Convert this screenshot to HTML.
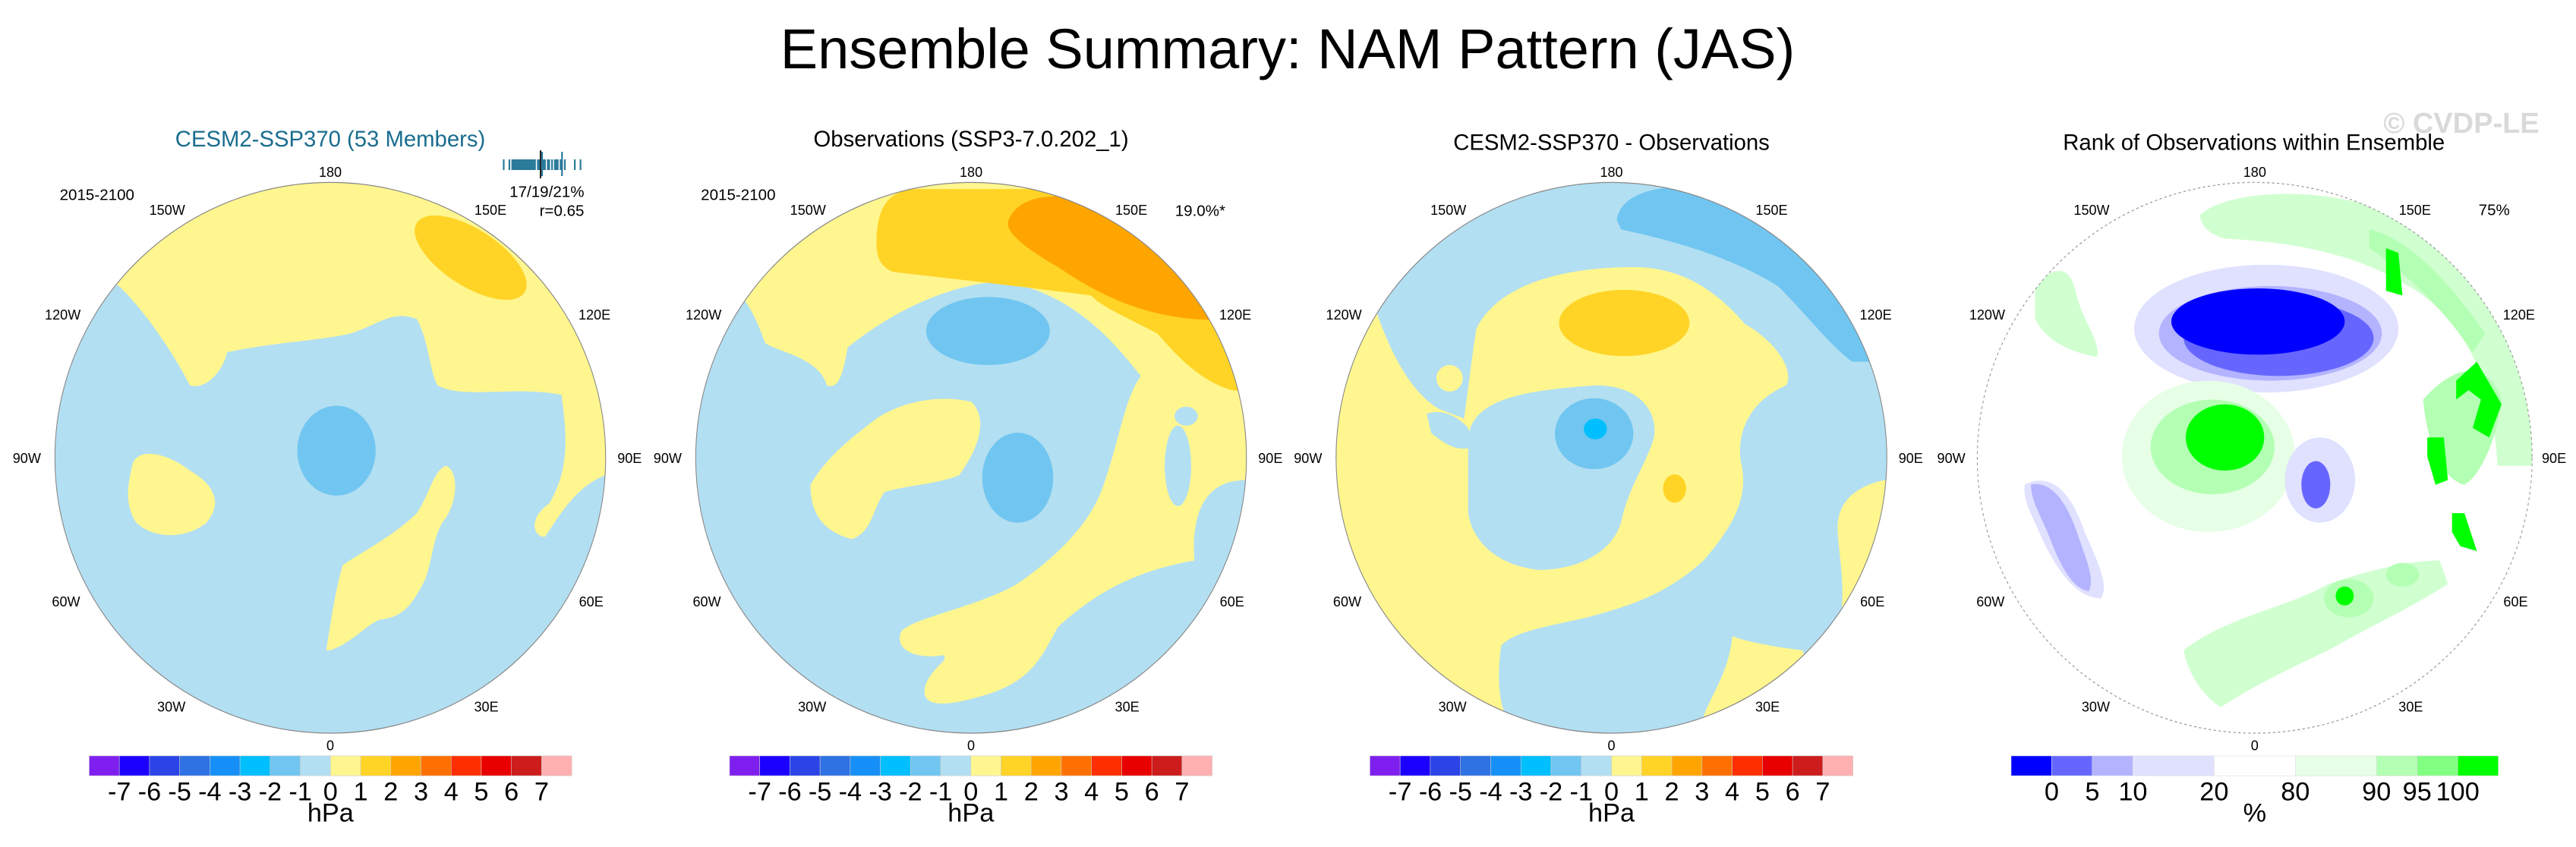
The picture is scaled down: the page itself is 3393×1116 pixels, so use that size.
<!DOCTYPE html>
<html><head><meta charset="utf-8">
<style>
html,body{margin:0;padding:0;background:#fff;}
svg{display:block;font-family:"Liberation Sans",Arial,sans-serif;}
</style></head>
<body>
<svg id="fig" width="3393" height="1116" viewBox="0 0 3393 1116">
<defs>
<clipPath id="c1"><ellipse cx="800" cy="743" rx="667" ry="582"/></clipPath>
<clipPath id="c2"><ellipse cx="789" cy="743" rx="667" ry="582"/></clipPath>
<clipPath id="c3"><ellipse cx="777" cy="743" rx="667" ry="582"/></clipPath>
<clipPath id="c4"><ellipse cx="772" cy="743" rx="672" ry="582"/></clipPath>
</defs>
<rect width="3393" height="1116" fill="#fff"/>
<text x="1696" y="90" font-size="74" text-anchor="middle" fill="#000">Ensemble Summary: NAM Pattern (JAS)</text>
<text x="3242" y="175" font-size="38" font-weight="bold" text-anchor="middle" fill="#d9d9d9">© CVDP-LE</text>

<!-- Panel 1 -->
<g id="p1" class="panel" transform="translate(0,140) scale(0.5438,0.6234)">
<text x="800" y="85" font-size="47" text-anchor="middle" fill="#1a6d8f">CESM2-SSP370 (53 Members)</text>
<g clip-path="url(#c1)">
<rect x="0" y="100" width="1600" height="1300" fill="#b3dff2"/>
<path d="M0,378 L285,378 C340,420 420,520 460,590 C500,600 540,560 550,520 C650,500 780,495 850,480 C920,460 950,430 1010,450 C1040,500 1040,560 1060,590 C1120,620 1250,590 1360,610 C1370,680 1385,760 1330,840 C1280,870 1290,910 1320,910 C1360,860 1400,790 1500,770 L1600,770 L1600,100 L0,100 Z" fill="#fff68f"/>
<ellipse cx="1140" cy="320" rx="150" ry="62" transform="rotate(28 1140 320)" fill="#ffd426"/>
<path d="M320,760 C330,720 400,730 460,770 C520,800 540,840 500,880 C460,910 380,920 330,880 C300,840 310,800 320,760Z" fill="#fff68f"/>
<path d="M790,1150 C800,1100 810,1030 830,970 C880,940 950,910 1010,860 C1040,820 1050,770 1080,760 C1110,770 1110,830 1080,870 C1050,900 1050,950 1030,1000 C1000,1050 980,1080 920,1085 C880,1100 860,1130 800,1150Z" fill="#fff68f"/>
<ellipse cx="815" cy="728" rx="95" ry="95" fill="#70c6f0"/>
</g>
<ellipse cx="800" cy="743" rx="667" ry="582" fill="none" stroke="#888" stroke-width="2"/>
</g>

<!-- Panel 2 -->
<g id="p2" class="panel" transform="translate(850,140) scale(0.5438,0.6234)">
<text x="789" y="85" font-size="47" text-anchor="middle" fill="#000">Observations (SSP3-7.0.202_1)</text>
<g clip-path="url(#c2)">
<rect x="0" y="100" width="1600" height="1300" fill="#b3dff2"/>
<path d="M0,100 L1600,100 L1600,790 L1455,790 C1380,790 1320,830 1330,960 C1200,980 1100,1020 1000,1100 C960,1160 940,1220 800,1250 C720,1270 660,1270 680,1220 C700,1180 740,1170 720,1160 C660,1170 600,1150 620,1110 C650,1080 800,1060 900,1010 C1000,950 1080,880 1110,800 C1150,700 1160,620 1200,570 C1120,480 1020,390 860,370 C700,380 560,460 490,510 C480,560 470,600 440,590 C420,530 320,520 290,500 C270,450 250,420 240,410 L0,410 Z" fill="#fff68f"/>
<ellipse cx="1290" cy="760" rx="32" ry="85" fill="#b3dff2"/>
<ellipse cx="1310" cy="655" rx="28" ry="20" fill="#b3dff2"/>
<path d="M560,290 C560,200 600,180 650,175 L1600,175 L1600,620 L1420,600 C1340,580 1280,520 1240,480 C1150,440 1100,420 1080,400 C900,380 700,360 600,350 C570,340 560,320 560,290Z" fill="#ffd426"/>
<path d="M880,240 C900,200 950,190 1000,190 L1600,190 L1600,460 L1330,450 C1200,440 1100,400 1000,340 C900,290 870,260 880,240Z" fill="#ffa500"/>
<ellipse cx="830" cy="475" rx="150" ry="72" fill="#70c6f0"/>
<ellipse cx="902" cy="785" rx="86" ry="95" fill="#70c6f0"/>
<path d="M400,800 C440,740 500,700 560,660 C630,620 720,610 790,625 C830,660 810,720 760,780 C700,800 640,800 580,815 C550,850 550,900 500,915 C440,900 400,870 400,800Z" fill="#fff68f"/>
</g>
<ellipse cx="789" cy="743" rx="667" ry="582" fill="none" stroke="#888" stroke-width="2"/>
</g>

<!-- Panel 3 -->
<g id="p3" class="panel" transform="translate(1700,140) scale(0.5438,0.6234)">
<text x="777" y="92" font-size="47" text-anchor="middle" fill="#000">CESM2-SSP370 - Observations</text>
<g clip-path="url(#c3)">
<rect x="0" y="100" width="1600" height="1300" fill="#b3dff2"/>
<path d="M0,440 L210,440 C250,540 300,610 360,640 L420,660 C430,600 440,520 450,470 C500,380 650,340 830,340 C960,340 1040,400 1100,460 C1180,500 1220,560 1200,590 C1120,620 1080,680 1090,750 C1110,820 1080,880 1000,960 C900,1040 800,1060 720,1080 C620,1100 540,1110 510,1140 C500,1200 500,1280 540,1310 C600,1320 700,1320 790,1330 L0,1400 Z" fill="#fff68f"/>
<path d="M430,700 C440,620 560,600 740,590 C850,590 890,650 880,700 C860,760 820,800 800,880 C780,940 700,980 600,980 C500,970 440,920 430,860 Z" fill="#b3dff2"/>
<path d="M330,650 C360,640 400,650 430,680 L440,720 C410,730 380,720 340,690Z" fill="#b3dff2"/>
<ellipse cx="385" cy="575" rx="32" ry="28" fill="#fff68f"/>
<ellipse cx="808" cy="458" rx="158" ry="70" fill="#ffd426"/>
<ellipse cx="735" cy="692" rx="95" ry="75" fill="#70c6f0"/>
<ellipse cx="738" cy="682" rx="28" ry="22" fill="#00bfff"/>
<ellipse cx="930" cy="808" rx="28" ry="30" fill="#ffd426"/>
<path d="M790,240 C800,180 900,170 950,170 L1600,170 L1600,540 L1360,540 C1300,500 1250,440 1180,380 C1050,310 900,280 800,260Z" fill="#70c6f0"/>
<path d="M1600,780 L1440,790 C1380,800 1320,830 1325,900 C1330,960 1340,1000 1335,1060 L1600,1060Z" fill="#fff68f"/>
<path d="M1070,1120 C1060,1200 1020,1240 1000,1290 L1300,1290 L1240,1150 C1150,1140 1100,1130 1070,1120Z" fill="#fff68f"/>
</g>
<ellipse cx="777" cy="743" rx="667" ry="582" fill="none" stroke="#888" stroke-width="2"/>
</g>

<!-- Panel 4 -->
<g id="p4" class="panel" transform="translate(2550,140) scale(0.5438,0.6234)">
<text x="770" y="92" font-size="47" text-anchor="middle" fill="#000">Rank of Observations within Ensemble</text>
<g clip-path="url(#c4)">
<rect x="0" y="100" width="1600" height="1300" fill="#fff"/>
<path d="M640,230 C700,180 900,170 1050,210 C1200,270 1350,380 1440,560 L1460,760 L1360,760 C1350,600 1300,480 1180,400 C1080,340 950,290 700,280 C660,270 640,250 640,230Z" fill="#d0ffd0"/>
<path d="M1050,260 C1150,280 1250,380 1330,480 L1300,520 C1230,430 1150,360 1050,300Z" fill="#b3ffb3"/>
<path d="M1090,300 L1120,310 L1130,400 L1090,390 Z" fill="#00ff00"/>
<path d="M1180,620 C1240,560 1330,520 1370,620 C1360,700 1320,780 1280,800 C1230,790 1190,720 1180,620Z" fill="#b3ffb3"/>
<path d="M1260,580 L1310,540 L1370,630 L1340,700 L1300,680 L1320,620 L1290,600 L1260,620Z" fill="#00ff00"/>
<path d="M1190,700 L1230,700 L1240,790 L1210,800 L1190,740Z" fill="#00ff00"/>
<path d="M1250,860 L1280,860 L1310,940 L1270,930 L1250,900Z" fill="#00ff00"/>
<path d="M240,380 C290,330 330,340 340,400 C360,460 400,500 390,530 C330,520 270,500 240,450Z" fill="#d0ffd0"/>
<ellipse cx="800" cy="470" rx="320" ry="135" fill="#e0e0ff"/>
<ellipse cx="810" cy="480" rx="270" ry="100" fill="#b3b3ff"/>
<ellipse cx="830" cy="490" rx="230" ry="80" fill="#6666ff"/>
<ellipse cx="780" cy="455" rx="210" ry="70" fill="#0000ff"/>
<ellipse cx="660" cy="740" rx="210" ry="160" fill="#e6ffe6"/>
<ellipse cx="670" cy="720" rx="150" ry="100" fill="#b3ffb3"/>
<ellipse cx="700" cy="700" rx="95" ry="70" fill="#00ff00"/>
<path d="M215,800 C280,770 330,820 360,900 C390,960 420,1010 400,1040 C340,1040 290,980 250,900 C230,860 210,830 215,800Z" fill="#e0e0ff"/>
<path d="M230,800 C280,790 320,840 345,910 C365,960 385,1000 370,1025 C330,1020 300,970 270,900 C250,860 230,830 230,800Z" fill="#b3b3ff"/>
<ellipse cx="930" cy="790" rx="85" ry="90" fill="#e0e0ff"/>
<ellipse cx="920" cy="800" rx="35" ry="50" fill="#6666ff"/>
<path d="M600,1150 C700,1080 850,1060 950,1010 C1050,980 1150,960 1220,960 L1240,1010 C1150,1060 1050,1100 950,1150 C850,1190 760,1230 690,1270 C650,1250 610,1200 600,1150Z" fill="#d0ffd0"/>
<ellipse cx="1000" cy="1040" rx="60" ry="40" fill="#b3ffb3"/>
<ellipse cx="990" cy="1035" rx="22" ry="20" fill="#00ff00"/>
<ellipse cx="1130" cy="990" rx="40" ry="25" fill="#b3ffb3"/>
</g>
<ellipse cx="772" cy="743" rx="672" ry="582" fill="none" stroke="#999" stroke-width="2" stroke-dasharray="6 6"/>
</g>

<g id="members"></g>
</svg>
<script>
// Colorbar data (hPa)
const hpaLevels = [-7,-6,-5,-4,-3,-2,-1,0,1,2,3,4,5,6,7];
const hpaColors = ["#7f1fef","#1b00ff","#2a44e8","#2e72e4","#1690f8","#00bfff","#70c6f0","#b3dff2","#fff68f","#ffd426","#ffa500","#ff7000","#ff2e00","#e80000","#cc1c1c","#ffb0b0"];
const rankLevels = [0,5,10,20,80,90,95,100];
const rankColors = ["#0000ff","#6666ff","#b3b3ff","#e0e0ff","#ffffff","#e6ffe6","#b3ffb3","#80ff80","#00ff00"];
const rankSpans = [1,1,1,2,2,2,1,1,1];
// Ensemble member values (percent explained variance)
const memberValues = [16.2,16.6,16.8,16.9,17.0,17.1,17.2,17.3,17.4,17.5,17.6,17.7,17.8,17.9,18.0,18.1,18.2,18.3,18.4,18.6,18.7,18.9,19.0,19.1,19.3,19.4,19.6,19.8,19.9,20.0,20.2,20.3,20.5,21.2,21.6];
const memberMin = 15.7, memberMax = 22.0;
const obsValue = 18.1;

const NS = "http://www.w3.org/2000/svg";
function mk(tag, attrs, parent){const e=document.createElementNS(NS,tag);for(const k in attrs)e.setAttribute(k,attrs[k]);parent.appendChild(e);return e;}

const panels = [
  {id:'p1', x0:216, x1:1385, cx:800},
  {id:'p2', x0:204, x1:1373, cx:789},
  {id:'p3', x0:192, x1:1362, cx:777},
];
const ticks = [["180",800,138],["150W",405,218],["150E",1188,218],["120W",152,440],["120E",1440,440],["90W",65,743],["90E",1525,743],["60W",160,1046],["60E",1432,1046],["30W",415,1268],["30E",1178,1268],["0",800,1350]];

function addTicks(g, cx){
  ticks.forEach(t=>{
    const tx = mk('text',{x:t[1]+(cx-800), y:t[2]+11, 'font-size':29, 'text-anchor':'middle', fill:'#000'}, g);
    
    
    tx.textContent = t[0];
  });
}

panels.forEach((p)=>{
  const g = document.getElementById(p.id);
  addTicks(g, p.cx);
  const n = hpaColors.length, w = (p.x1-p.x0)/n;
  const cb = mk('g',{},g);
  
  
  hpaColors.forEach((c,i)=>{
    const r = mk('rect',{x:p.x0+i*w, y:1373, width:w, height:42, fill:c, stroke:'#ccc', 'stroke-width':1}, cb);
    
    
  });
  hpaLevels.forEach((v,i)=>{
    const t = mk('text',{x:p.x0+(i+1)*w, y:1467, 'font-size':55, 'text-anchor':'middle', fill:'#000'}, cb);
    
    
    t.textContent = v;
  });
  const u = mk('text',{x:(p.x0+p.x1)/2, y:1512, 'font-size':55, 'text-anchor':'middle', fill:'#000'}, cb);
  
  
  u.textContent = 'hPa';
});

(function(){
  const g = document.getElementById('p4');
  addTicks(g, 772);
  const x0 = 182, x1 = 1362;
  const total = rankSpans.reduce((a,b)=>a+b,0), unit=(x1-x0)/total;
  const cb = mk('g',{},g);
  
  
  let x = x0; const bounds=[];
  rankColors.forEach((c,i)=>{
    const w = rankSpans[i]*unit;
    const r = mk('rect',{x:x, y:1373, width:w, height:42, fill:c, stroke:'#ddd', 'stroke-width':1}, cb);
    
    
    x += w; bounds.push(x);
  });
  rankLevels.forEach((v,i)=>{
    const t = mk('text',{x:bounds[i], y:1467, 'font-size':55, 'text-anchor':'middle', fill:'#000'}, cb);
    
    
    t.textContent = v;
  });
  const u = mk('text',{x:772, y:1512, 'font-size':55, 'text-anchor':'middle', fill:'#000'}, cb);
  
  
  u.textContent = '%';
  const s = mk('text',{x:1352, y:230, 'font-size':33, 'text-anchor':'middle', fill:'#000'}, g);
  
  
  s.textContent = '75%';
})();

function note(id, txt, x, y, anchor, name){
  const t = mk('text',{x:x, y:y, 'font-size':33, 'text-anchor':anchor, fill:'#000'}, document.getElementById(id));
  
  
  t.textContent = txt;
}
note('p1','2015-2100',235,198,'middle','period-label');
note('p1','17/19/21%',1415,192,'end','pct-variance-range');
note('p1','r=0.65',1415,232,'end','pattern-correlation');
note('p2','2015-2100',225,198,'middle','period-label');
note('p2','19.0%*',1405,232,'end','obs-pct-variance');

// undo vertical stretch for text inside panels
const k = 0.6234/0.5438;
document.querySelectorAll('g.panel text').forEach(t=>{
  const x = parseFloat(t.getAttribute('x')), y = parseFloat(t.getAttribute('y'));
  t.setAttribute('transform', `translate(${x},${y}) scale(${k},1) translate(${-x},${-y})`);
});

// member strip (original coords)
(function(){
  const g = document.getElementById('members');
  const sx = v => 654 + (v-memberMin)/(memberMax-memberMin)*(772-654);
  memberValues.forEach((v,i)=>{
    const tall = (i===21 || i===31);
    const r = mk('rect',{x:sx(v)-1, y: tall?200:210, width:2.2, height: tall?32:14, fill:'#2a7a9a'}, g);
    
    
  });
  const o = mk('rect',{x:sx(obsValue)+12, y:198, width:2, height:37, fill:'#222'}, g);
  
  
})();
</script>
</body></html>
